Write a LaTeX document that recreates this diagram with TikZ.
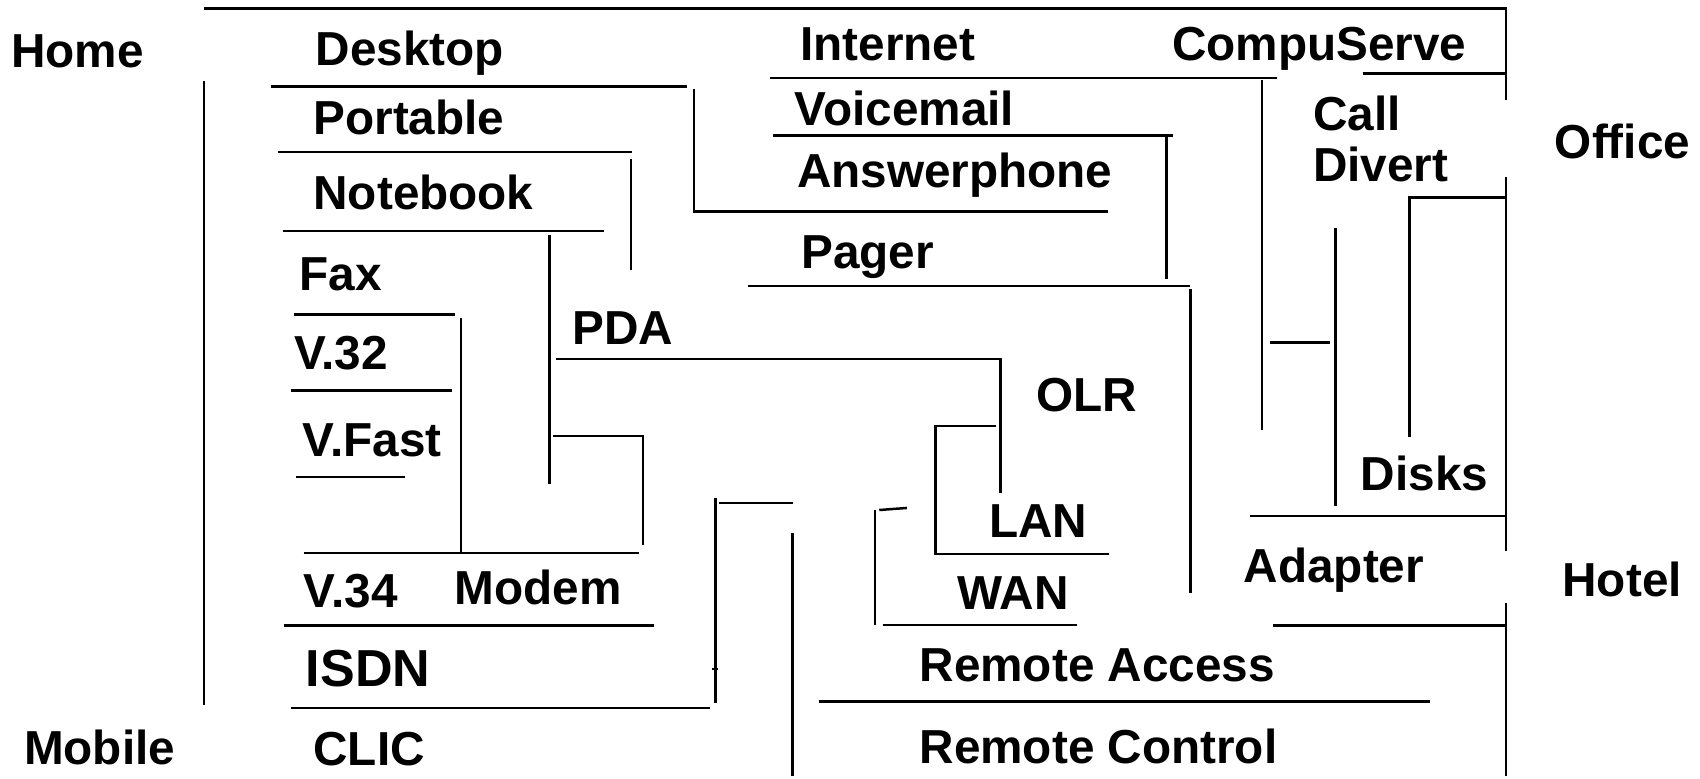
\documentclass[tikz,border=0pt]{standalone}
\usepackage{fontspec}
\setmainfont{Liberation Sans}
\begin{document}
\begin{tikzpicture}[x=1pt,y=-1pt,
  lbl/.style={anchor=base west,inner sep=0pt,font=\fontsize{44}{50}\selectfont\bfseries},
  biglbl/.style={lbl,font=\fontsize{48}{54}\selectfont\bfseries},
  ln/.style={line width=2.3pt}]
\useasboundingbox (0,0) rectangle (1568,718);
\fill[white] (0,0) rectangle (1568,718);

% ---- labels ----
\node[lbl] (home)     at (10,62)    {Home};
\node[lbl] (mobile)   at (22,705)   {Mobile};
\node[lbl] (office)   at (1434,146) {Office};
\node[lbl] (hotel)    at (1441,550) {Hotel};

\node[lbl] (desktop)  at (291,60)   {Desktop};
\node[lbl] (portable) at (289,124)  {Portable};
\node[lbl] (notebook) at (289,193)  {Notebook};
\node[lbl] (fax)      at (276,268)  {Fax};
\node[lbl] (v32)      at (271,341)  {V.32};
\node[lbl] (vfast)    at (279,421)  {V.Fast};
\node[lbl] (v34)      at (280,560)  {V.34};
\node[lbl] (modem)    at (419,558)  {Modem};
\node[biglbl] (isdn)  at (282,633)  {ISDN};
\node[lbl] (clic)     at (289,706)  {CLIC};
\node[lbl] (pda)      at (528,318)  {PDA};

\node[lbl] (internet) at (738,56)   {Internet};
\node[lbl] (compu)    at (1081,56)  {CompuServe};
\node[lbl] (voice)    at (733,116)  {Voicemail};
\node[lbl] (answer)   at (735,173)  {Answerphone};
\node[lbl] (pager)    at (739,248)  {Pager};
\node[lbl] (call)     at (1211,120) {Call};
\node[lbl] (divert)   at (1211,167) {Divert};
\node[lbl] (olr)      at (956,380)  {OLR};
\node[lbl] (disks)    at (1255,452) {Disks};
\node[lbl] (lan)      at (912,496)  {LAN};
\node[lbl] (wan)      at (883,562)  {WAN};
\node[lbl] (adapter)  at (1147,537) {Adapter};
\node[lbl] (raccess)  at (848,629)  {Remote Access};
\node[lbl] (rcontrol) at (848,704)  {Remote Control};

% ---- frame lines ----
\draw[ln] (188,8) -- (1389,8) -- (1389,92);
\draw[ln] (1257,68) -- (1389,68);
\draw[ln] (1389,163) -- (1389,508);
\draw[ln] (1389,556) -- (1389,716);
\draw[ln] (188,75) -- (188,650);

% ---- left column ----
\draw[ln] (250,80) -- (634,80);
\draw[ln] (640,82) -- (640,195) -- (1022,195);
\draw[ln] (256,140) -- (583,140);
\draw[ln] (582,147) -- (582,249);
\draw[ln] (261,213) -- (557,213);
\draw[ln] (507,217) -- (507,446);
\draw[ln] (271,290) -- (420,290);
\draw[ln] (425,293) -- (425,509);
\draw[ln] (268,360) -- (417,360);
\draw[ln] (273,440) -- (374,440);
\draw[ln] (280,510) -- (589,510);
\draw[ln] (510,402) -- (593,402) -- (593,503);
\draw[ln] (262,577) -- (603,577);
\draw[ln] (268,653) -- (655,653);
\draw[ln] (663,464) -- (731,464);
\draw[ln] (660,459) -- (660,648);
\draw[ln] (657,617) -- (662,617);
\draw[ln] (731,492) -- (731,716);

% ---- middle ----
\draw[ln] (513,331) -- (923,331) -- (923,455);
\draw[ln] (919,393) -- (863,393) -- (863,511) -- (1023,511);
\draw[ln] (811,470.4) -- (836.5,468.5);
\draw[ln] (807,470.4) -- (807,576.5);
\draw[ln] (814,576.5) -- (993.5,576.5);
\draw[ln] (690,264) -- (1098,264);
\draw[ln] (1098,267) -- (1098,547);
\draw[ln] (713,125) -- (1082,125);
\draw[ln] (1076,125) -- (1076,257);
\draw[ln] (710,72) -- (1178,72);
\draw[ln] (1164,74) -- (1164,397);
\draw[ln] (755,647) -- (1319,647);

% ---- right ----
\draw[ln] (1171,316) -- (1227,316);
\draw[ln] (1232,210) -- (1232,467);
\draw[ln] (1389,182) -- (1300,182) -- (1300,403);
\draw[ln] (1153,476) -- (1389,476);
\draw[ln] (1174,577) -- (1389,577);
\end{tikzpicture}
\end{document}
